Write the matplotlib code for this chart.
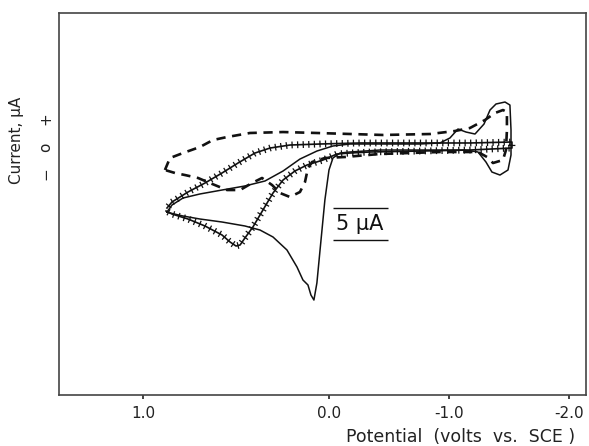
import numpy as np
import matplotlib
matplotlib.use("Agg")
import matplotlib.pyplot as plt
import matplotlib.patheffects as pe

# ---- data (potential in volts vs SCE, current in microamps) ----
solid_v = [0.871, 0.844, 0.785, 0.694, 0.575, 0.452, 0.344, 0.247, 0.156, 0.065,
           -0.033, -0.175, -0.425, -0.758, -0.925, -1.008, -1.075, -1.142, -1.217,
           -1.292, -1.342, -1.392, -1.467, -1.508, -1.517, -1.517, -1.492, -1.425,
           -1.358, -1.308, -1.242, -1.133, -0.758, -0.425, -0.175, -0.092, -0.033,
           0.0, 0.022, 0.048, 0.065, 0.081, 0.097, 0.113, 0.140, 0.172, 0.226,
           0.301, 0.371, 0.452, 0.575, 0.694, 0.785, 0.855, 0.871]
solid_i = [-10.16, -9.06, -7.97, -7.34, -6.72, -6.09, -5.31, -3.75, -1.88, -0.63,
           0.16, 0.47, 0.47, 0.47, 0.63, 1.41, 2.81, 2.34, 2.03,
           3.59, 5.78, 6.72, 7.03, 6.56, 2.66, -1.25, -3.59, -4.38,
           -3.91, -2.34, -0.78, -0.47, -0.47, -0.47, -0.78, -0.94, -1.72,
           -3.59, -8.28, -16.09, -21.25, -23.91, -23.13, -21.56, -20.78, -18.75, -16.09,
           -14.06, -12.97, -12.34, -11.72, -11.25, -10.78, -10.31, -10.16]

dashed_v = [0.882, 0.855, 0.785, 0.694, 0.624, 0.548, 0.425, 0.247, 0.065, -0.45,
            -0.842, -1.05, -1.175, -1.30, -1.383, -1.45, -1.483, -1.483, -1.475,
            -1.45, -1.367, -1.317, -1.242, -0.925, -0.425, -0.133, 0.022, 0.091,
            0.113, 0.129, 0.156, 0.210, 0.263, 0.306, 0.360, 0.414, 0.478, 0.548,
            0.640, 0.704, 0.774, 0.828, 0.882]
dashed_i = [-3.59, -1.72, -0.94, 0.0, 1.09, 1.56, 2.19, 2.34, 2.19, 1.88,
            2.03, 2.5, 2.97, 4.22, 5.31, 5.78, 5.47, 2.66, -0.47,
            -2.03, -2.5, -1.56, -0.78, -0.78, -1.09, -1.56, -1.72, -2.34,
            -3.28, -5.47, -7.03, -7.81, -7.19, -5.94, -4.84, -5.63, -6.72, -6.72,
            -5.63, -4.84, -4.38, -4.06, -3.59]

hatch_v = [0.871, 0.844, 0.758, 0.667, 0.575, 0.489, 0.398, 0.317, 0.210, 0.048,
           -0.258, -0.758, -1.175, -1.525, -1.525, -1.175, -0.758, -0.342, -0.175,
           -0.067, 0.032, 0.118, 0.183, 0.247, 0.301, 0.355, 0.409, 0.452, 0.478,
           0.500, 0.532, 0.575, 0.667, 0.758, 0.844, 0.876]
hatch_i = [-9.53, -8.59, -7.03, -5.63, -4.06, -2.5, -0.94, -0.16, 0.31, 0.47,
           0.63, 0.63, 0.63, 0.78, -0.16, -0.47, -0.63, -0.78, -0.94,
           -1.09, -2.03, -2.81, -3.75, -5.16, -7.19, -9.84, -12.5, -14.22, -15.31,
           -15.47, -14.84, -13.75, -12.34, -11.25, -10.47, -10.0]

xtick_vals = [1.0, 0.0, -1.0, -2.0]
xtick_labels = ["1.0", "0.0", "-1.0", "-2.0"]
ytick_vals = [4.4, 0.0, -4.1]
ytick_labels = ["+", "o", "\u2212"]

# ---- nonlinear potential axis of the original (positive side stretched) ----
K = 1.55
def fwd(v):
    v = np.asarray(v, dtype=float)
    return np.where(v > 0, v * K, v)
def inv(s):
    s = np.asarray(s, dtype=float)
    return np.where(s > 0, s / K, s)

fig = plt.figure(figsize=(5.89, 4.46), dpi=100)
ax = fig.add_axes([59/589, 1 - 395/446, (586-59)/589, (395-13)/446])
ax.set_xscale('function', functions=(fwd, inv))
ax.set_xlim(1.4516, -2.142)
ax.set_ylim(-38.75, 20.94)

ink = '#111111'
ax.plot(solid_v, solid_i, color=ink, lw=1.1)
ax.plot(dashed_v, dashed_i, color=ink, lw=1.9, dashes=(3.5, 2.5))
tick_fx = [pe.TickedStroke(spacing=4.0, angle=90, length=0.5, linewidth=0.9),
           pe.TickedStroke(spacing=4.0, angle=-90, length=0.5, linewidth=0.9),
           pe.Normal()]
ax.plot(hatch_v, hatch_i, color=ink, lw=1.2, path_effects=tick_fx)

# scale bar 5 uA
ax.hlines([-9.53, -14.53], -0.033, -0.492, color=ink, lw=1.0)
ax.text(-0.26, -12.1, "5 \u00b5A", fontsize=15, ha='center', va='center', color=ink)

for s in ax.spines.values():
    s.set_color('#444444')
    s.set_linewidth(1.2)

ax.set_xticks(xtick_vals)
ax.set_xticklabels(xtick_labels, fontsize=11, color='#222222')
ax.tick_params(axis='x', direction='out', length=3, width=1.2, pad=5, colors='#222222')
ax.xaxis.set_minor_locator(matplotlib.ticker.NullLocator())

ax.set_yticks(ytick_vals)
ax.set_yticklabels(ytick_labels, fontsize=11, rotation=90, va='center', color='#222222')
ax.tick_params(axis='y', which='major', length=0, pad=4)
ax.set_yticks([0.0], minor=True)
ax.tick_params(axis='y', which='minor', length=4, width=1.2, direction='out', color='#444444')

ax.set_ylabel("Current, \u00b5A", fontsize=11, color='#222222')
ax.yaxis.set_label_coords(-0.066, 0.667)

fig.text(575/589, 1 - 437/446, "Potential  (volts  vs.  SCE )", fontsize=12.5,
         ha='right', va='center', color='#222222')

fig.savefig("out.png", dpi=100)
